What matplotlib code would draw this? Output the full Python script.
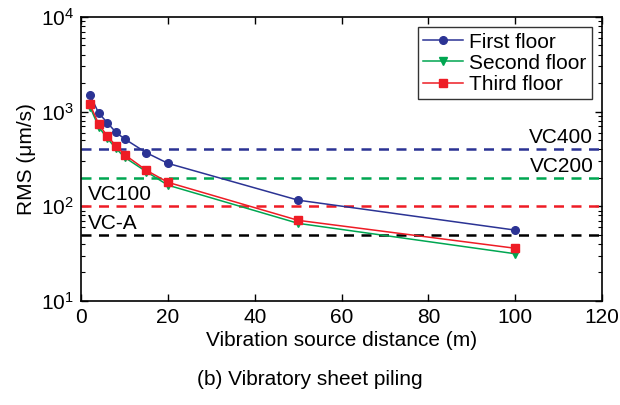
import matplotlib
matplotlib.use("Agg")
import matplotlib.pyplot as plt
from matplotlib.ticker import LogLocator, NullFormatter

plt.rcParams['font.family'] = ['Liberation Sans', 'DejaVu Sans']

# distance from vibration source (m)
dist = [2, 4, 6, 8, 10, 15, 20, 50, 100]
# RMS velocity (um/s) per floor
first = [1510, 970, 765, 605, 515, 368, 284, 116, 56]
second = [1130, 693, 522, 410, 329, 232, 167, 66, 31.5]
third = [1200, 740, 553, 436, 351, 240, 179, 71, 36]

# vibration criteria
vc_names = ['VC400', 'VC200', 'VC100', 'VC-A']
vc_vals = [400, 200, 100, 50]
vc_cols = ['#2b3394', '#00a651', '#ee1c25', 'black']

blue, green, red = '#2b3394', '#00a651', '#ee1c25'

fig = plt.figure(figsize=(6.2, 4.05), dpi=100)
ax = fig.add_axes([0.131, 0.257, 0.84, 0.701])

for v, c in zip(vc_vals, vc_cols):
    ax.axhline(v, color=c, ls=(0, (4, 3)), lw=1.8)

ax.plot(dist, first, '-o', color=blue, lw=1.1, ms=5.5, label='First floor')
ax.plot(dist, second, '-v', color=green, lw=1.1, ms=5.5, label='Second floor')
ax.plot(dist, third, '-s', color=red, lw=1.1, ms=5.5, label='Third floor')

fs = 15
ax.text(118, vc_vals[0] * 1.05, vc_names[0], ha='right', va='bottom', fontsize=fs)
ax.text(118, vc_vals[1] * 1.05, vc_names[1], ha='right', va='bottom', fontsize=fs)
ax.text(1.5, vc_vals[2] * 1.05, vc_names[2], ha='left', va='bottom', fontsize=fs)
ax.text(1.5, vc_vals[3] * 1.05, vc_names[3], ha='left', va='bottom', fontsize=fs)

ax.set_yscale('log')
ax.set_xlim(0, 120)
ax.set_ylim(10, 1e4)
ax.set_xticks(range(0, 121, 20))
ax.yaxis.set_minor_locator(LogLocator(base=10, subs=range(2, 10)))
ax.yaxis.set_minor_formatter(NullFormatter())
ax.tick_params(which='both', direction='in', top=True, right=True, labelsize=fs, pad=5)
ax.tick_params(which='major', length=5, width=1)
ax.tick_params(which='minor', length=3, width=0.8)
for s in ax.spines.values():
    s.set_linewidth(1.2)

ax.set_xlabel('Vibration source distance (m)', fontsize=fs, labelpad=3)
ax.set_ylabel('RMS (\u03bcm/s)', fontsize=fs, labelpad=4)

leg = ax.legend(loc='upper right', fontsize=fs, frameon=True, fancybox=False,
                edgecolor='black', handlelength=1.9, borderaxespad=0.5,
                labelspacing=0.1, handletextpad=0.3, borderpad=0.25)
leg.get_frame().set_linewidth(1)

fig.text(0.5, 0.062, '(b) Vibratory sheet piling', ha='center', va='center', fontsize=fs)

fig.savefig('out.png', dpi=100)
